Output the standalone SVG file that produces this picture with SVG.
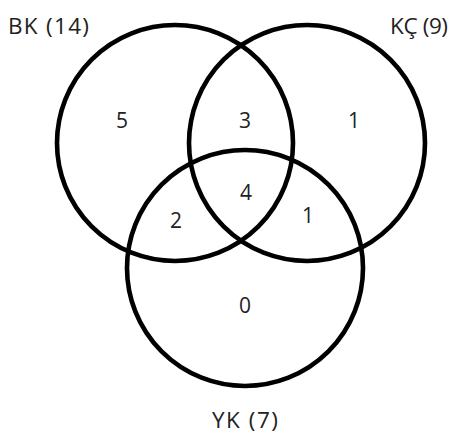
<svg xmlns="http://www.w3.org/2000/svg" width="458" height="435" viewBox="0 0 458 435">
<style>
.c{fill:none;stroke:#000;stroke-width:4.6}
.t{font-family:"Open Sans","Noto Sans",sans-serif;font-size:21px;fill:#222}
.l{font-size:22.5px}
.n{text-anchor:middle}
</style>
<rect width="458" height="435" fill="#fff"/>
<g id="sets">
<g id="bk"><circle class="c" cx="175" cy="143" r="118"/><text class="t l" x="8" y="34" textLength="81">BK (14)</text></g>
<g id="kc"><circle class="c" cx="307" cy="143" r="118"/><text class="t l" x="390" y="34" textLength="58">KÇ (9)</text></g>
<g id="yk"><circle class="c" cx="245" cy="268" r="118"/><text class="t l" x="212" y="428" textLength="66">YK (7)</text></g>
</g>
<g id="counts">
<text class="t n" x="122" y="128">5</text>
<text class="t n" x="245" y="128">3</text>
<text class="t n" x="354" y="128">1</text>
<text class="t n" x="246" y="200">4</text>
<text class="t n" x="176" y="228">2</text>
<text class="t n" x="308" y="223">1</text>
<text class="t n" x="245" y="313">0</text>
</g>
</svg>
